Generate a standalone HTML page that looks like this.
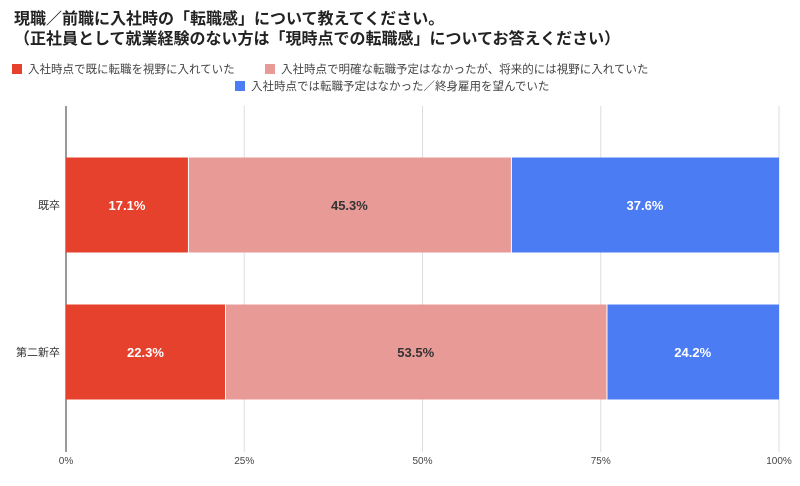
<!DOCTYPE html>
<html><head><meta charset="utf-8"><style>
body{margin:0;background:#fff;font-family:"Liberation Sans","Noto Sans CJK JP",sans-serif;}
#c{position:relative;width:800px;height:486px;overflow:hidden;}
.t{position:absolute;left:14px;font-size:16px;font-weight:bold;color:#222;white-space:nowrap;}
.lg{position:absolute;font-size:11.5px;color:#444;white-space:nowrap;}
.sw{display:inline-block;width:10px;height:10px;margin-right:6px;vertical-align:-1px;}
</style></head><body>
<div id="c">
<div class="t" style="top:5px">現職／前職に入社時の「転職感」について教えてください。</div>
<div class="t" style="top:25px">（正社員として就業経験のない方は「現時点での転職感」についてお答えください）</div>
<div class="lg" style="left:12px;top:61px"><span class="sw" style="background:#e5412d"></span>入社時点で既に転職を視野に入れていた</div>
<div class="lg" style="left:265px;top:61px"><span class="sw" style="background:#e89a97"></span>入社時点で明確な転職予定はなかったが、将来的には視野に入れていた</div>
<div class="lg" style="left:235px;top:78px"><span class="sw" style="background:#4c7cf3"></span>入社時点では転職予定はなかった／終身雇用を望んでいた</div>
<svg id="s" width="800" height="486" style="position:absolute;left:0;top:0"></svg>
</div>
<script>
const categories=["既卒","第二新卒"];
const seriesAlready=[17.1,22.3];
const seriesFuture=[45.3,53.5];
const seriesNone=[37.6,24.2];
const ticks=[0,25,50,75,100];
const tickLabels=["0%","25%","50%","75%","100%"];
const NS="http://www.w3.org/2000/svg";
const svg=document.getElementById('s');
const x0=66,x1=779,gTop=106,gBot=452,top0=131.5,bot=425.5;
const xs=v=>x0+(x1-x0)*v/100;
const bandH=(bot-top0)/categories.length;
function el(t,a){const e=document.createElementNS(NS,t);for(const k in a)e.setAttribute(k,a[k]);svg.appendChild(e);return e;}
ticks.forEach((t,i)=>{
 const g=el('line',{x1:xs(t),x2:xs(t),y1:gTop,y2:gBot,stroke:i==0?'#333':'#ddd','stroke-width':1});
 
 
 const l=el('text',{x:xs(t),y:464,'font-size':10,fill:'#444','text-anchor':'middle'});
 l.textContent=tickLabels[i];
 
 
});
const series=[[seriesAlready,'#e5412d','already','#fff'],[seriesFuture,'#e89a97','future','#333'],[seriesNone,'#4c7cf3','none','#fff']];
categories.forEach((c,i)=>{
 const yc=top0+bandH*(i+0.5), h=95, y=yc-h/2;
 const cl=el('text',{x:60,y:yc+4,'font-size':11,fill:'#333','text-anchor':'end'});
 cl.textContent=c;
 
 
 let acc=0;
 series.forEach(([arr,col,nm,tc])=>{
  const v=arr[i];
  const r=el('rect',{x:xs(acc)+(acc>0?1:0),y:y,width:xs(acc+v)-xs(acc)-(acc>0?1:0),height:h,fill:col});
  
  
  const tx=el('text',{x:(xs(acc)+xs(acc+v))/2,y:yc+5,'font-size':13,'font-weight':'bold',fill:tc,'text-anchor':'middle'});
  tx.textContent=v.toFixed(1)+'%';
  
  
  acc+=v;
 });
});
</script>
</body></html>
